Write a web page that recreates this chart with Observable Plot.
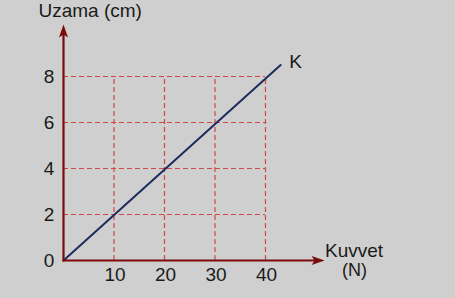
<!DOCTYPE html>
<html>
<head>
<meta charset="utf-8">
<script src="https://cdn.jsdelivr.net/npm/d3@7"></script>
<script src="https://cdn.jsdelivr.net/npm/@observablehq/plot@0.6"></script>
<style>
  html, body { margin: 0; padding: 0; background: #cfcfcf; }
  #chart svg { display: block; background: #cfcfcf; }
</style>
</head>
<body>
<div id="chart"></div>
<script>
// ---- data ----
const forceTicks = [10, 20, 30, 40];       // Kuvvet (N)
const stretchTicks = [0, 2, 4, 6, 8];      // Uzama (cm)
const lineK = [[0, 0], [43, 8.5]];         // line K: (force, stretch)
const xAxisEnd = 51.7;                     // x-axis arrow tip (N)
const yAxisEnd = 10.26;                    // y-axis arrow tip (cm)
const xTitle = ["Kuvvet", "(N)"];
const yTitle = "Uzama (cm)";
const seriesLabel = "K";

const font = "'Liberation Sans', Arial, Helvetica, sans-serif";
const axisColor = "#7a0a0a";
const gridColor = "#d24646";
const lineColor = "#1d2c5c";

// arrowhead symbol: tip at origin pointing up
const arrowHead = {
  draw(context) {
    context.moveTo(0, 0);
    context.lineTo(-4.5, 13);
    context.lineTo(0, 10);
    context.lineTo(4.5, 13);
    context.closePath();
  }
};

const gridY = stretchTicks.filter(d => d > 0);

const chart = Plot.plot({
  width: 455,
  height: 298,
  style: {background: "#cfcfcf", fontFamily: font},
  x: {domain: [0, 40], range: [63, 265], axis: null},
  y: {domain: [0, 8], range: [260, 76], axis: null},
  marks: [
    // dashed gridlines
    Plot.ruleY(gridY, {y: d => d, x1: 0, x2: 40, stroke: gridColor, strokeWidth: 1.2, strokeDasharray: "5,3"}),
    Plot.ruleX(forceTicks, {x: d => d, y1: 0, y2: 8, stroke: gridColor, strokeWidth: 1.2, strokeDasharray: "5,3"}),
    // line K
    Plot.line(lineK, {x: d => d[0], y: d => d[1], stroke: lineColor, strokeWidth: 2}),
    // axes
    Plot.line([[0, 0], [0, yAxisEnd - 0.4]], {x: d => d[0], y: d => d[1], stroke: axisColor, strokeWidth: 2.2}),
    Plot.line([[0, 0], [xAxisEnd - 2, 0]], {x: d => d[0], y: d => d[1], stroke: axisColor, strokeWidth: 2.2}),
    Plot.dot([[0, yAxisEnd]], {x: d => d[0], y: d => d[1], symbol: arrowHead, fill: axisColor, stroke: "none"}),
    Plot.dot([[xAxisEnd, 0]], {x: d => d[0], y: d => d[1], symbol: arrowHead, fill: axisColor, stroke: "none", rotate: 90}),
    // tick labels
    Plot.text(stretchTicks, {x: 0, y: d => d, text: d => String(d), dx: -14.5, textAnchor: "middle", fontSize: 19, fill: "#1a1a1a"}),
    Plot.text(forceTicks, {x: d => d, y: 0, text: d => String(d), dy: 14.5, dx: 1, textAnchor: "middle", fontSize: 19, fill: "#1a1a1a"}),
    // titles
    Plot.text([yTitle], {x: 0, y: yAxisEnd, text: d => d, textAnchor: "start", dx: -25, dy: -14, fontSize: 19, fill: "#1a1a1a"}),
    Plot.text([xTitle[0]], {x: xAxisEnd, y: 0, text: d => d, textAnchor: "middle", dx: 29.5, dy: -9.5, fontSize: 19, fill: "#1a1a1a"}),
    Plot.text([xTitle[1]], {x: xAxisEnd, y: 0, text: d => d, textAnchor: "middle", dx: 30, dy: 9.5, fontSize: 18, fill: "#1a1a1a"}),
    // series label
    Plot.text([seriesLabel], {x: lineK[1][0], y: lineK[1][1], text: d => d, textAnchor: "start", dx: 8.5, dy: -3, fontSize: 19, fill: "#1a1a1a"})
  ]
});
document.getElementById("chart").appendChild(chart);
</script>
</body>
</html>
